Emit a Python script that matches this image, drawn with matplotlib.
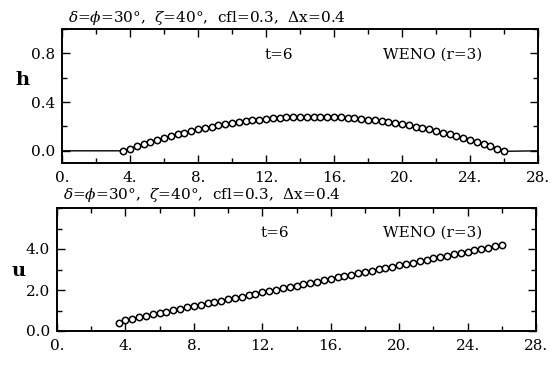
import matplotlib
matplotlib.use("Agg")
import matplotlib.pyplot as plt
from matplotlib.ticker import MultipleLocator, FixedLocator, FixedFormatter

plt.rcParams['font.family'] = ['DejaVu Serif']
plt.rcParams['mathtext.fontset'] = 'dejavuserif'

# ---- data ----
x = [3.6, 4.0, 4.4, 4.8, 5.2, 5.6, 6.0, 6.4, 6.8, 7.2, 7.6, 8.0, 8.4, 8.8, 9.2,
     9.6, 10.0, 10.4, 10.8, 11.2, 11.6, 12.0, 12.4, 12.8, 13.2, 13.6, 14.0, 14.4,
     14.8, 15.2, 15.6, 16.0, 16.4, 16.8, 17.2, 17.6, 18.0, 18.4, 18.8, 19.2, 19.6,
     20.0, 20.4, 20.8, 21.2, 21.6, 22.0, 22.4, 22.8, 23.2, 23.6, 24.0, 24.4, 24.8,
     25.2, 25.6, 26.0]
h = [0.000, 0.019, 0.038, 0.056, 0.073, 0.090, 0.106, 0.121, 0.136, 0.150,
     0.163, 0.176, 0.188, 0.199, 0.209, 0.219, 0.228, 0.236, 0.243, 0.250,
     0.256, 0.262, 0.267, 0.271, 0.274, 0.276, 0.278, 0.279, 0.280, 0.279,
     0.278, 0.276, 0.274, 0.271, 0.267, 0.262, 0.256, 0.250, 0.243, 0.236,
     0.228, 0.219, 0.209, 0.199, 0.188, 0.176, 0.163, 0.150, 0.136, 0.121,
     0.106, 0.090, 0.073, 0.056, 0.038, 0.018, -0.004]
u = [0.40, 0.52, 0.60, 0.68, 0.75, 0.82, 0.88, 0.95, 1.02, 1.08, 1.15, 1.21,
     1.28, 1.35, 1.41, 1.48, 1.55, 1.61, 1.68, 1.74, 1.81, 1.88, 1.94, 2.01,
     2.08, 2.14, 2.21, 2.28, 2.34, 2.41, 2.48, 2.54, 2.61, 2.67, 2.74, 2.81,
     2.87, 2.94, 3.01, 3.07, 3.14, 3.21, 3.27, 3.34, 3.41, 3.47, 3.54, 3.60,
     3.67, 3.74, 3.80, 3.87, 3.94, 4.00, 4.07, 4.14, 4.20]
x_range = [0.0, 28.0]
x_ticks = [0, 4, 8, 12, 16, 20, 24, 28]
x_ticklabels = ["0.", "4.", "8.", "12.", "16.", "20.", "24.", "28."]
h_ticks = [0.0, 0.4, 0.8]
h_ticklabels = ["0.0", "0.4", "0.8"]
u_ticks = [0.0, 2.0, 4.0]
u_ticklabels = ["0.0", "2.0", "4.0"]
title = r"$\delta$=$\phi$=30°,  $\zeta$=40°,  cfl=0.3,  $\Delta$x=0.4"
time_label = "t=6"
scheme_label = "WENO (r=3)"

W, H = 553, 372
fig = plt.figure(figsize=(W / 100, H / 100), dpi=100)

def style(ax, yticks, yticklabels, yminor):
    ax.set_xlim(*x_range)
    ax.xaxis.set_major_locator(FixedLocator(x_ticks))
    ax.xaxis.set_major_formatter(FixedFormatter(x_ticklabels))
    ax.xaxis.set_minor_locator(MultipleLocator(2))
    ax.yaxis.set_major_locator(FixedLocator(yticks))
    ax.yaxis.set_major_formatter(FixedFormatter(yticklabels))
    ax.yaxis.set_minor_locator(MultipleLocator(yminor))
    ax.tick_params(which='both', direction='in', top=True, right=True,
                   width=1.0, labelsize=11)
    ax.tick_params(which='major', length=6)
    ax.tick_params(which='minor', length=3.5)
    ax.tick_params(axis='x', pad=6)
    ax.tick_params(axis='y', pad=5)
    for s in ax.spines.values():
        s.set_linewidth(1.4)

# top panel: h
ax1 = fig.add_axes([62 / W, 1 - 163 / H, (538 - 62) / W, (163 - 29) / H])
ax1.plot([x_range[0]] + x + [x_range[1]], [0.0] + h + [0.0],
         color='black', lw=1.0, zorder=2)
ax1.plot(x, h, ls='none', marker='o', ms=4.6, mfc='white', mec='black',
         mew=1.1, zorder=3)
ax1.set_ylim(-0.1, 1.0)
style(ax1, h_ticks, h_ticklabels, 0.2)
fig.text(68 / W, 1 - 18 / H, title, fontsize=11, va='center', ha='left')
fig.text(22 / W, 1 - 80 / H, "h", fontsize=14, fontweight='bold',
         va='center', ha='center')
fig.text(279 / W, 1 - 55 / H, time_label, fontsize=11,
         ha='center', va='center')
fig.text(433 / W, 1 - 55 / H, scheme_label, fontsize=11,
         ha='center', va='center')

# bottom panel: u
ax2 = fig.add_axes([57 / W, 1 - 331 / H, (536 - 57) / W, (331 - 208) / H])
ax2.plot(x, u, color='black', lw=1.0, zorder=2)
ax2.plot(x, u, ls='none', marker='o', ms=4.6, mfc='white', mec='black',
         mew=1.1, zorder=3)
ax2.set_ylim(0.0, 6.0)
style(ax2, u_ticks, u_ticklabels, 1.0)
fig.text(63 / W, 1 - 195 / H, title, fontsize=11, va='center', ha='left')
fig.text(19 / W, 1 - 271 / H, "u", fontsize=14, fontweight='bold',
         va='center', ha='center')
fig.text(275 / W, 1 - 233 / H, time_label, fontsize=11,
         ha='center', va='center')
fig.text(433 / W, 1 - 233 / H, scheme_label, fontsize=11,
         ha='center', va='center')

fig.savefig("out.png", dpi=100)
